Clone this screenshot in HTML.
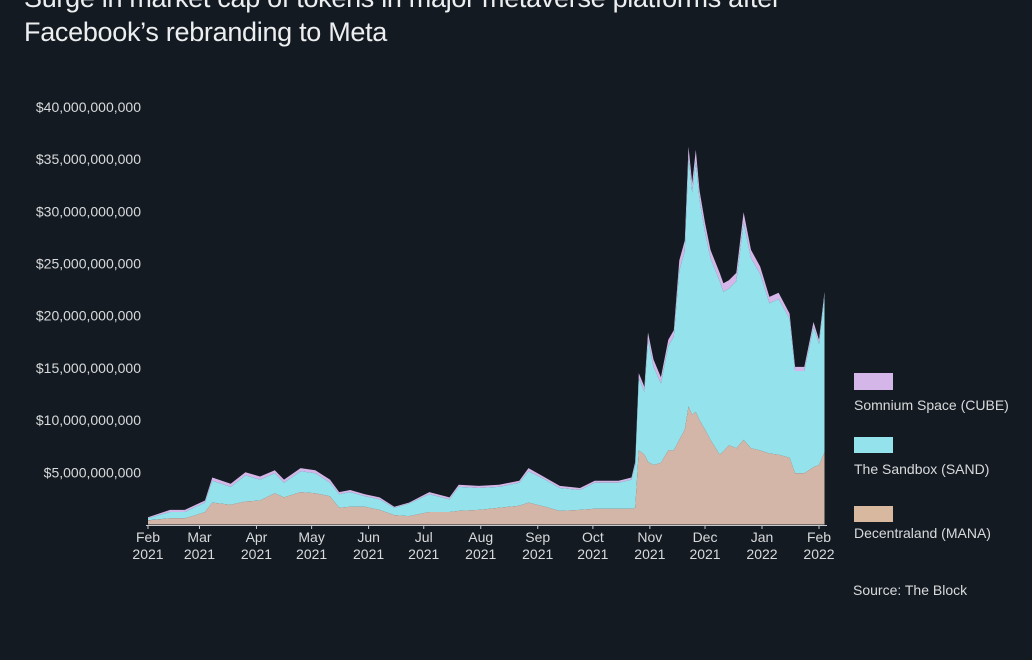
<!DOCTYPE html>
<html><head><meta charset="utf-8"><style>
html,body{margin:0;padding:0;background:#131a22;}
body{width:1032px;height:660px;overflow:hidden;position:relative;font-family:"Liberation Sans",sans-serif;}
.title{position:absolute;left:24px;color:#eceef0;font-size:27px;white-space:nowrap;letter-spacing:-0.3px;}
</style></head><body>
<div class="title" style="top:-17px">Surge in market cap of tokens in major metaverse platforms after</div>
<div class="title" style="top:17px">Facebook’s rebranding to Meta</div>
<svg id="chart" width="1032" height="660" style="position:absolute;left:0;top:0" font-family="Liberation Sans, sans-serif">
<g id="yaxis"></g>
<g id="areas"></g>
<g id="xaxis"></g>
<g>
<rect x="854" y="373" width="39" height="17" fill="#d4b7e8"/>
<text x="854" y="410" fill="#d8dadc" font-size="14">Somnium Space (CUBE)</text>
<rect x="854" y="437" width="39" height="16" fill="#93e2ec"/>
<text x="854" y="474" fill="#d8dadc" font-size="14">The Sandbox (SAND)</text>
<rect x="854" y="506" width="39" height="16" fill="#d8b89e"/>
<text x="854" y="538" fill="#d8dadc" font-size="14">Decentraland (MANA)</text>
</g>
<text x="853" y="595" fill="#d8dadc" font-size="14">Source: The Block</text>
</svg>
<script>
// days since Feb 1 2021
const days = [0,12,20,26,31,35,45,53,61,69,74,83,91,99,104,110,118,126,134,142,153,164,169,180,191,202,207,216,224,235,243,256,263,265,267,270,272,275,279,283,286,289,292,294,296,298,300,303,306,311,313,316,320,324,328,333,338,343,349,352,357,362,365,368];
// market cap in $ billions
const mana = [0.4,0.6,0.6,0.9,1.2,2.1,1.9,2.2,2.3,3.0,2.6,3.1,3.0,2.7,1.6,1.7,1.7,1.4,0.9,0.8,1.2,1.2,1.3,1.4,1.6,1.8,2.1,1.7,1.3,1.4,1.5,1.5,1.5,1.6,7.1,6.7,6.0,5.7,5.9,7.1,7.1,8.1,9.1,11.3,10.5,10.8,10.0,9.1,8.1,6.7,7.0,7.6,7.3,8.1,7.3,7.1,6.8,6.7,6.4,4.9,4.9,5.5,5.7,6.9];
const sand = [0.2,0.6,0.6,0.8,0.9,2.1,1.7,2.5,2.0,1.9,1.4,2.0,1.9,1.3,1.3,1.4,1.0,1.0,0.7,1.2,1.7,1.2,2.3,2.1,2.0,2.2,3.0,2.6,2.2,1.9,2.5,2.5,2.8,4.1,6.9,6.0,11.7,9.4,7.6,10.0,10.9,16.2,17.1,23.9,21.3,24.0,21.1,18.9,17.4,16.6,15.3,15.0,16.0,20.8,18.2,16.9,14.4,14.9,13.3,9.8,9.8,13.4,11.6,15.0];
const cube = [0.1,0.2,0.2,0.2,0.2,0.3,0.3,0.3,0.3,0.3,0.3,0.3,0.3,0.3,0.2,0.2,0.2,0.2,0.1,0.1,0.2,0.2,0.2,0.2,0.2,0.2,0.3,0.2,0.2,0.2,0.2,0.2,0.2,0.3,0.5,0.5,0.7,0.7,0.6,0.6,0.6,1.0,1.0,1.0,0.9,1.1,0.9,0.9,0.8,0.8,0.8,0.8,0.8,1.0,0.8,0.7,0.6,0.6,0.5,0.4,0.4,0.5,0.4,0.4];
const yTicks = [5,10,15,20,25,30,35,40];
const yTickLabels = ["$5,000,000,000","$10,000,000,000","$15,000,000,000","$20,000,000,000","$25,000,000,000","$30,000,000,000","$35,000,000,000","$40,000,000,000"];
const xTickDays = [0,28,59,89,120,150,181,212,242,273,303,334,365];
const xTickMonths = ["Feb","Mar","Apr","May","Jun","Jul","Aug","Sep","Oct","Nov","Dec","Jan","Feb"];
const xTickYears = ["2021","2021","2021","2021","2021","2021","2021","2021","2021","2021","2021","2022","2022"];

const NS="http://www.w3.org/2000/svg";
const x0=148, pxDay=671/365, y0=524.5, pxB=10.44;
const X=d=>x0+d*pxDay, Y=v=>y0-v*pxB;
function mk(t,a,p){const e=document.createElementNS(NS,t);for(const k in a)e.setAttribute(k,a[k]);p.appendChild(e);return e;}

const ya=document.getElementById('yaxis');
yTicks.forEach((v,i)=>{
  const t=mk('text',{x:141,y:Y(v)+5,'text-anchor':'end',fill:'#d8dadc','font-size':14},ya);
  
  
  t.textContent=yTickLabels[i];
});

const ar=document.getElementById('areas');
const s1=mana, s2=mana.map((m,i)=>m+sand[i]), s3=s2.map((v,i)=>v+cube[i]);
function band(lo,hi,color,name){
  let d='M'+X(days[0])+','+Y(hi[0]);
  for(let i=1;i<days.length;i++) d+='L'+X(days[i]).toFixed(1)+','+Y(hi[i]).toFixed(1);
  for(let i=days.length-1;i>=0;i--) d+='L'+X(days[i]).toFixed(1)+','+Y(lo?lo[i]:0).toFixed(1);
  const p=mk('path',{d:d+'Z',fill:color},ar);
  
  
}
band(s2,s3,'#d4b7e8','area-cube');
band(s1,s2,'#93e2ec','area-sand');
band(null,s1,'#d4b6a8','area-mana');

const xa=document.getElementById('xaxis');
const ln=mk('line',{x1:146,x2:827,y1:525.5,y2:525.5,stroke:'#c8ccd0','stroke-width':1},xa);


xTickDays.forEach((d,i)=>{
  const tk=mk('line',{x1:X(d),x2:X(d),y1:525,y2:529,stroke:'#c8ccd0'},xa);
  
  
  const t=mk('text',{x:X(d),y:542,'text-anchor':'middle',fill:'#d8dadc','font-size':14},xa);
  
  
  t.textContent=xTickMonths[i];
  const t2=mk('text',{x:X(d),y:559,'text-anchor':'middle',fill:'#d8dadc','font-size':14},xa);
  
  
  t2.textContent=xTickYears[i];
});
</script>
</body></html>
